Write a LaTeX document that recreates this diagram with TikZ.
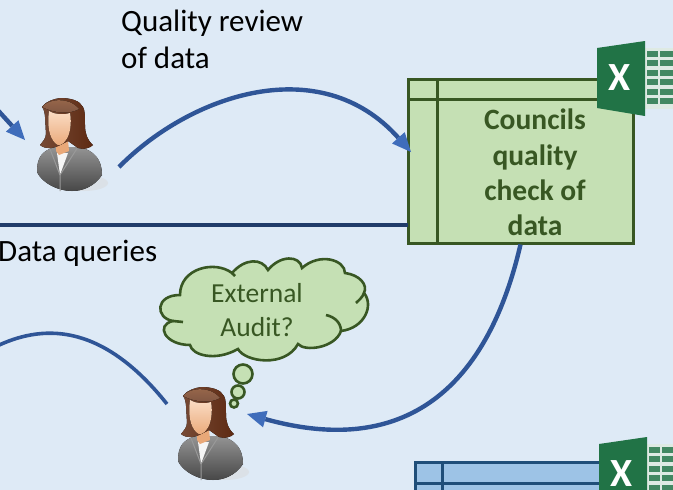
\documentclass[tikz,border=0pt]{standalone}
\usepackage{fontspec}
\setmainfont{Carlito}
\usetikzlibrary{arrows.meta}
\definecolor{pagebg}{HTML}{DEEAF6}
\definecolor{greenfill}{HTML}{C5E0B4}
\definecolor{greenline}{HTML}{385723}
\definecolor{bluefill}{HTML}{9DC3E6}
\definecolor{blueline}{HTML}{1F4E79}
\definecolor{flowline}{HTML}{2F5597}
\definecolor{flowhead}{HTML}{3F6DBB}
\definecolor{excelgreen}{HTML}{217346}
\definecolor{hairdark}{HTML}{5E2A12}
\definecolor{hairlight}{HTML}{9C6A4C}
\definecolor{skinlight}{HTML}{FBDCC4}
\definecolor{skindark}{HTML}{E9A878}
\tikzstyle{flow}=[draw=flowline,line width=4.4pt]
\tikzstyle{flowarrow}=[flow,-{Triangle[length=19pt,width=17pt,fill=flowhead,color=flowhead,line width=0pt]}]
\tikzstyle{flowlabel}=[font=\fontsize{31}{37}\selectfont,align=left,inner sep=0pt,text=black]
\tikzstyle{greenbox}=[draw=greenline,fill=greenfill,line width=3pt,inner sep=0pt]
\tikzstyle{bluebox}=[draw=blueline,fill=bluefill,line width=3pt,inner sep=0pt]
\tikzset{
    person/.pic={
        \fill[gray!30,opacity=.5] (14,38) ellipse (24 and 8);
        \fill[top color=black!42,bottom color=black!72]
            (-33,27) .. controls (-33,12) and (-28,6) .. (-15,2) -- (10,2)
            .. controls (24,6) and (32,14) .. (32,30)
            .. controls (24,42) and (12,46) .. (2,46)
            .. controls (-12,46) and (-28,38) .. (-33,27) -- cycle;
        \fill[white!92!gray] (-13,8) -- (-2,8) -- (-10,30) -- cycle;
        \draw[black!40,line width=1pt] (-20,4) -- (-10,30) -- (-10,46);
        \draw[black!40,line width=1pt] (8,2) -- (-10,30);
        \fill[skindark] (-14,-5) -- (-2,-5) -- (-1,6) -- (-11,10) -- (-14,6) -- cycle;
        \fill[left color=hairdark!85,right color=hairdark]
            (-10,-47) .. controls (-16,-46) and (-24,-44) .. (-28,-38)
            .. controls (-24,-34) and (-25,-22) .. (-24,-12)
            .. controls (-24,-6) and (-27,-4) .. (-30,0)
            .. controls (-24,5) and (-16,3) .. (-12,1) -- (-2,-4) -- (8,3)
            .. controls (14,5) and (20,3) .. (23,0)
            .. controls (17,-5) and (15,-12) .. (15,-20)
            .. controls (15,-28) and (15,-35) .. (13,-38)
            .. controls (10,-44) and (2,-47) .. (-10,-47) -- cycle;
        \fill[top color=skinlight,bottom color=skindark]
            (-21,-34) .. controls (-14,-30) and (-6,-30) .. (0,-32)
            .. controls (2,-22) and (0,-10) .. (-4,-5)
            .. controls (-7,0) and (-12,2) .. (-15,-2)
            .. controls (-21,-8) and (-23,-20) .. (-21,-34) -- cycle;
        \fill[top color=hairlight,bottom color=hairdark!80] (-28,-38) .. controls (-22,-46) and (-2,-49) .. (9,-36)
            .. controls (0,-31) and (-14,-31) .. (-28,-38) -- cycle;
    },
    excelicon/.pic={
        \fill[white!85!excelgreen] (47,0) rectangle (76,61);
        \foreach \j in {0,...,5} {
            \fill[excelgreen!85] (50,3+9.4*\j) rectangle (61,9+9.4*\j);
            \fill[excelgreen!85] (63,3+9.4*\j) rectangle (76,9+9.4*\j);
        }
        \fill[excelgreen] (0,0) -- (48,-7) -- (48,68) -- (0,60) -- cycle;
        \node[font=\fontsize{40}{40}\selectfont\bfseries,text=white,inner sep=0pt] (-x) at (23,30) {X};
    }
}

\begin{document}
\begin{tikzpicture}[x=1pt,y=-1pt]
    \useasboundingbox (0,0) rectangle (673,490);
    \clip (0,0) rectangle (673,490);
    \fill[pagebg] (0,0) rectangle (673,490);

    % table boxes
    \node[greenbox,minimum width=225pt,minimum height=164pt] (councils) at (520.5,161) {};
    \draw[greenline,line width=3pt] (408,99) -- (633,99);
    \draw[greenline,line width=3pt] (437,79) -- (437,243);
    \node[font=\fontsize{29.5}{35.3}\selectfont\bfseries,text=greenline,align=center,inner sep=0pt] (councilstext) at (535,172.5) {Councils\\quality\\check of\\data};
    \node[bluebox,minimum width=226pt,minimum height=70pt] (outputs) at (528,497) {};
    \draw[blueline,line width=3pt] (415,483) -- (641,483);
    \draw[blueline,line width=3pt] (442,462) -- (442,490);

    % people and icons
    \pic (reviewer) at (70,145) {person};
    \pic (auditor) at (211,434) {person};
    \pic (excelone) at (597,48) {excelicon};
    \pic (exceltwo) at (599,444) {excelicon};

    \coordinate (incoming start) at (-6,106);
    \coordinate (incoming end) at (25,140);
    \coordinate (review start) at (119,167);
    \coordinate (review end) at (411,152);
    \coordinate (queries start) at (-5,225);
    \coordinate (queries end) at (408,225);
    \coordinate (audit start) at (-5,347);
    \coordinate (audit end) at (167,404);
    \coordinate (check end) at (247,414);

    \draw[flowarrow] (incoming start) -- (incoming end);
    \draw[flowarrow] (review start) .. controls (190,95) and (320,50) .. (review end);
    \draw[draw=flowline!70!black,line width=4.4pt] (queries start) -- (queries end);
    \draw[flow,line width=3.6pt] (audit start) .. controls (40,325) and (100,320) .. (audit end);
    \draw[flowarrow] (councils.south) .. controls (495,355) and (430,465) .. (check end);

    % thought cloud
    \draw[greenline,fill=greenfill,line width=2.6pt]
        (180,295) .. controls (180,268) and (215,260) .. (232,273)
        .. controls (245,258) and (262,258) .. (268,270)
        .. controls (280,255) and (300,255) .. (302,268)
        .. controls (320,252) and (345,260) .. (345,273)
        .. controls (360,275) and (368,285) .. (364,293)
        .. controls (374,305) and (365,328) .. (341,331)
        .. controls (335,348) and (305,352) .. (298,344)
        .. controls (285,368) and (245,362) .. (238,349)
        .. controls (215,362) and (192,355) .. (190,345)
        .. controls (165,345) and (155,325) .. (173,321)
        .. controls (155,318) and (155,295) .. (180,295) -- cycle;
    \draw[greenline,line width=2.6pt] (364,293) .. controls (362,298) and (359,300) .. (356,303);
    \draw[greenline,line width=2.6pt] (326,315) .. controls (335,317) and (341,323) .. (341,331);
    \draw[greenline,line width=2.6pt] (173,321) -- (183,322);
    \draw[greenline,line width=2.6pt] (232,273) -- (235,276);
    \node[font=\fontsize{27.5}{34}\selectfont,text=greenline,align=center,inner sep=0pt] (cloudtext) at (257,310) {External\\Audit?};
    \node[circle,draw=greenline,fill=greenfill,line width=2.6pt,minimum size=19pt,inner sep=0pt] (bubble big) at (243,374) {};
    \node[circle,draw=greenline,fill=greenfill,line width=2.6pt,minimum size=13pt,inner sep=0pt] (bubble mid) at (238,392) {};
    \node[circle,draw=greenline,fill=greenfill,line width=2.6pt,minimum size=8pt,inner sep=0pt] (bubble small) at (234,403.5) {};

    % labels
    \node[flowlabel,anchor=base west] (review label) at (121,68) {Quality review\\of data};
    \node[flowlabel,anchor=base west] (queries label) at (-2,261) {Data queries};
\end{tikzpicture}
\end{document}
